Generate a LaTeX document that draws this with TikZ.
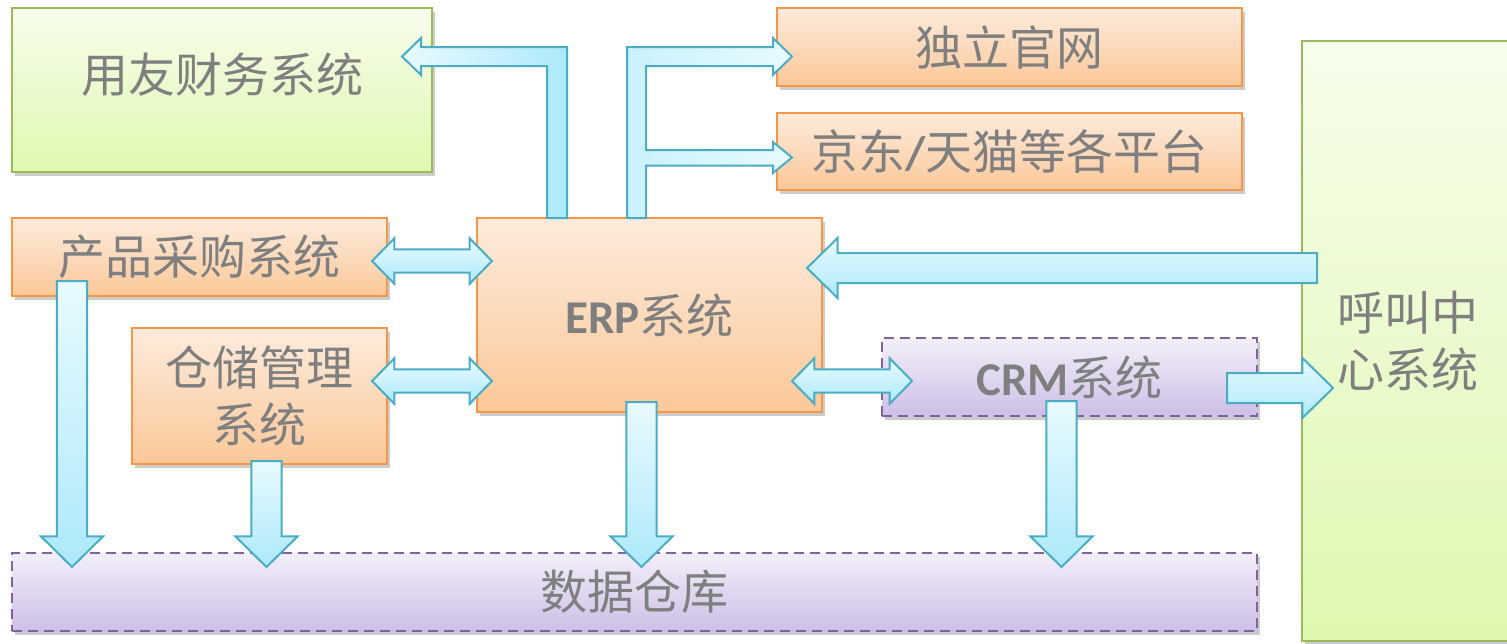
\documentclass[tikz,border=0pt]{standalone}
\usepackage{fontspec}
\setmainfont{Carlito}
\newfontfamily\cjk{Noto Sans CJK SC}
\usepackage{tikz}
\usetikzlibrary{positioning}
\usetikzlibrary{calc,shadows}

\definecolor{txtgray}{HTML}{7F7F7F}
\definecolor{orgline}{HTML}{F79646}
\definecolor{orgtop}{HTML}{FDEBDC}
\definecolor{orgbot}{HTML}{FBC899}
\definecolor{grnline}{HTML}{9BBB59}
\definecolor{grntop}{HTML}{F7FDEC}
\definecolor{grnbot}{HTML}{DEF8B0}
\definecolor{purline}{HTML}{8064A2}
\definecolor{purtop}{HTML}{F3EFFA}
\definecolor{purbot}{HTML}{CDBFE6}
\definecolor{arrline}{HTML}{4BACC6}
\definecolor{arrtop}{HTML}{E8FAFE}
\definecolor{arrbot}{HTML}{ADE9FA}

\newcommand{\latb}[1]{{\rmfamily\bfseries #1}}

\begin{document}
\begin{tikzpicture} [x=0.5pt, y=-0.5pt, every node/.style={outer sep=0pt, text=txtgray, align=center, font=\cjk\fontsize{23.5}{28.5}\selectfont},
  shaft/.store in=\fatshaft, head/.store in=\fathead, headlen/.store in=\fatlen,]

\tikzstyle{box}=[line width=1pt, drop shadow={shadow xshift=1.5pt, shadow yshift=-2pt, opacity=0.2, fill=black}]
\tikzstyle{orangebox}=[box, draw=orgline, top color=orgtop, bottom color=orgbot]
\tikzstyle{greenbox}=[box, draw=grnline, top color=grntop, bottom color=grnbot]
\tikzstyle{purplebox}=[box, draw=purline, dash pattern=on 5pt off 3pt, top color=purtop, bottom color=purbot]
\tikzstyle{arrowbody}=[draw=arrline, line width=1pt, line join=miter, top color=arrtop, bottom color=arrbot]
\tikzstyle{fat}=[shaft=7.5pt, head=15pt, headlen=15.3pt, arrowbody, to path={let \p1=(\tikztostart), \p2=(\tikztotarget), \n1={atan2(\y2-\y1,\x2-\x1)}, \n2={veclen(\x2-\x1,\y2-\y1)} in
  ($(\p1)+(\n1+90:\fatshaft)$) -- ($(\p1)+(\n1:\n2-\fatlen)+(\n1+90:\fatshaft)$) -- ($(\p1)+(\n1:\n2-\fatlen)+(\n1+90:\fathead)$) -- (\p2)
  -- ($(\p1)+(\n1:\n2-\fatlen)+(\n1-90:\fathead)$) -- ($(\p1)+(\n1:\n2-\fatlen)+(\n1-90:\fatshaft)$) -- ($(\p1)+(\n1-90:\fatshaft)$) -- cycle}]
\tikzstyle{dfat}=[shaft=5.85pt, head=11.4pt, headlen=11.2pt, arrowbody, to path={let \p1=(\tikztostart), \p2=(\tikztotarget), \n1={atan2(\y2-\y1,\x2-\x1)}, \n2={veclen(\x2-\x1,\y2-\y1)} in
  (\p1) -- ($(\p1)+(\n1:\fatlen)+(\n1+90:\fathead)$) -- ($(\p1)+(\n1:\fatlen)+(\n1+90:\fatshaft)$) -- ($(\p1)+(\n1:\n2-\fatlen)+(\n1+90:\fatshaft)$) -- ($(\p1)+(\n1:\n2-\fatlen)+(\n1+90:\fathead)$) -- (\p2)
  -- ($(\p1)+(\n1:\n2-\fatlen)+(\n1-90:\fathead)$) -- ($(\p1)+(\n1:\n2-\fatlen)+(\n1-90:\fatshaft)$) -- ($(\p1)+(\n1:\fatlen)+(\n1-90:\fatshaft)$) -- ($(\p1)+(\n1:\fatlen)+(\n1-90:\fathead)$) -- cycle}]

\useasboundingbox (0,0) rectangle (1507,643);

% boxes
\node (fin) [greenbox, minimum width=210pt, minimum height=82pt, label={[yshift=7.5pt]center:用友财务系统}] at (222,90) {};
\node (web) [orangebox, minimum width=232.5pt, minimum height=39pt] at (1009.5,47) {独立官网};
\node (mall) [orangebox, minimum width=232.5pt, minimum height=38.5pt, below=13.5pt of web] {京东{\latb{/}}天猫等各平台};
\node (buy) [orangebox, minimum width=187.5pt, minimum height=39pt] at (199.5,257) {产品采购系统};
\node (erp) [orangebox, minimum width=172.5pt, minimum height=97pt] at (649.5,315) {\latb{ERP}系统};
\node (wms) [orangebox, minimum width=127.5pt, minimum height=68pt] at (259.5,396) {仓储管理\\系统};
\node (crm) [purplebox, minimum width=187.5pt, minimum height=39pt] at (1069.5,377) {\latb{CRM}系统};
\node (dw) [purplebox, minimum width=622.5pt, minimum height=39pt] at (634.5,592) {数据仓库};
\node (call) [greenbox, minimum width=106pt, minimum height=300pt] at (1408,341) {呼叫中\\心系统};

% arrow ends
\coordinate (a1) at ($(buy.east)+(-15,4)$);
\coordinate (a2) at ($(erp.west)+(15,-54)$);
\coordinate (b1) at ($(wms.east)+(-15,-15)$);
\coordinate (b2) at ($(erp.west)+(15,66)$);
\coordinate (c1) at ($(erp.east)+(-30,66)$);
\coordinate (c2) at ($(crm.west)+(30,4)$);
\coordinate (d1) at ($(call.west)+(15,-73)$);
\coordinate (d2) at ($(erp.east)+(-15,-47)$);
\coordinate (e1) at ($(crm.east)+(-30,11)$);
\coordinate (e2) at ($(call.west)+(31,47)$);
\coordinate (f1) at ($(buy.south west)+(60,-15)$);
\coordinate (f2) at ($(dw.north west)+(60,14)$);
\coordinate (g1) at ($(wms.south)+(7,-3)$);
\coordinate (g2) at (g1 |- f2);
\coordinate (h1) at ($(erp.south)+(-8,-10)$);
\coordinate (h2) at (h1 |- f2);
\coordinate (k1) at ($(crm.south)+(-8,-15)$);
\coordinate (k2) at (k1 |- f2);

\draw [dfat] (a1) to (a2);
\draw [dfat] (b1) to (b2);
\draw [dfat] (c1) to (c2);
\draw [fat] (d1) to (d2);
\draw [fat] (e1) to (e2);
\foreach \s/\t in {f1/f2, g1/g2, h1/h2, k1/k2}
  \draw [fat, shaft=7.6pt, head=15.5pt] (\s) to (\t);

% bent ones out of the top of erp
\draw [arrowbody, left color=arrtop, right color=arrbot] (erp.north west) ++(70,0) -- ++(0,-152) -- ++(-126,0) -- ++(0,9) -- ++(-19,-18.5) -- ++(19,-18.5) -- ++(0,9) -- ++(146,0) -- ++(0,171) -- cycle;
\draw [arrowbody, left color=arrbot, right color=arrtop] (erp.north west) ++(150,0) -- ++(0,-171) -- ++(146,0) -- ++(0,-9) -- ++(19,18.5) -- ++(-19,18.5) -- ++(0,-9) -- ++(-127,0) -- ++(0,84)
  -- ++(127,0) -- ++(0,-8) -- ++(19,15.5) -- ++(-19,15.5) -- ++(0,-7.5) -- ++(-127,0) -- ++(0,52.5) -- cycle;

\end{tikzpicture}
\end{document}
